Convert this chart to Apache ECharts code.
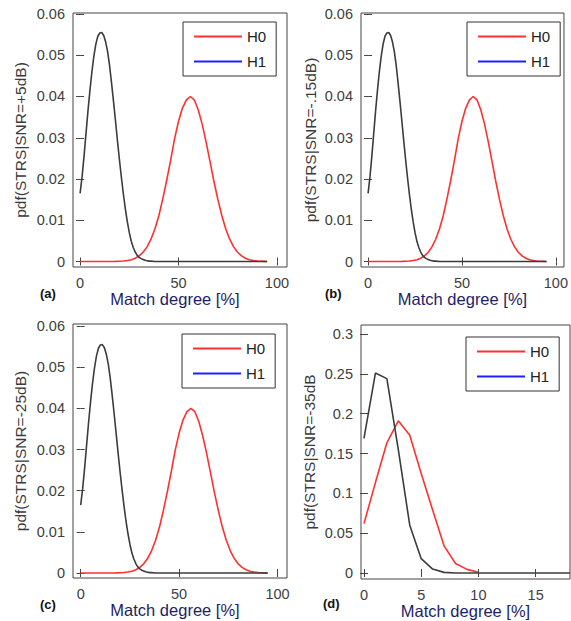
<!DOCTYPE html>
<html>
<head>
<meta charset="utf-8">
<script src="https://cdn.jsdelivr.net/npm/echarts@6/dist/echarts.min.js"></script>
<style>html,body{margin:0;padding:0;background:#fff}#c{width:571px;height:621px}</style>
</head>
<body>
<div id="c"></div>
<script>
// ---- data ----
// panels (a), (b), (c) share the same curves
const h1MainX = [0,1,2,3,4,5,6,7,8,9,10,11,12,13,14,15,16,17,18,19,20,21,22,23,24,25,26,27,28,29,30,31,32,33,34,35,36,38,40,50,60,70,80,90,95];
const h1MainY = [0.0165,0.0205,0.0255,0.0310,0.0365,0.0415,0.0460,0.0498,0.0527,0.0546,0.0554,0.0555,0.0548,0.0532,0.0508,0.0474,0.0432,0.0387,0.0340,0.0292,0.0246,0.0203,0.0163,0.0127,0.0096,0.0070,0.0049,0.0034,0.0023,0.0015,0.0010,0.0007,0.0005,0.0003,0.0002,0.0001,0.0001,0,0,0,0,0,0,0,0];
const h0MainX = [0,2,4,6,8,10,12,14,16,18,20,22,24,26,28,30,32,34,36,38,40,42,44,46,48,50,52,54,56,58,60,62,64,66,68,70,72,74,76,78,80,82,84,86,88,90,92,94,95];
const h0MainY = [0,0,0,0,0,0,0.00001,0.00001,0.00002,0.00003,0.00006,0.00012,0.00024,0.00044,0.00079,0.00136,0.00224,0.00355,0.0054,0.0079,0.0111,0.0152,0.0197,0.0246,0.0298,0.0340,0.0372,0.0392,0.0400,0.0392,0.0368,0.0333,0.0290,0.0242,0.0194,0.0150,0.0111,0.0079,0.0054,0.00355,0.00224,0.00136,0.00079,0.00044,0.00024,0.00012,0.00006,0.00003,0.00002];
// panel (d)
const h0DX = [0,1,2,3,4,5,6,7,8,9,10];
const h0DY = [0.062,0.1135,0.1635,0.191,0.173,0.125,0.079,0.034,0.012,0.0046,0.001];
const h1DX = [0,1,2,3,4,5,6,7,8,9,10,11,12,13,14,15,16,17,18];
const h1DY = [0.169,0.251,0.244,0.155,0.060,0.018,0.005,0.0008,0,0,0,0,0,0,0,0,0,0,0];
// ticks / labels
const xTicksMain = [0, 50, 100];
const yTicksMain = [0, 0.01, 0.02, 0.03, 0.04, 0.05, 0.06];
const xTicksD = [0, 5, 10, 15];
const yTicksD = [0, 0.05, 0.1, 0.15, 0.2, 0.25, 0.3];
const seriesNames = ['H0', 'H1'];
const yTitles = ['pdf(STRS|SNR=+5dB)', 'pdf(STRS|SNR=-.15dB)', 'pdf(STRS|SNR=-25dB)', 'pdf(STRS|SNR=-35dB'];
const xTitle = 'Match degree [%]';
const panelTags = ['(a)', '(b)', '(c)', '(d)'];

// ---- layout ----
const FONT = "'Liberation Sans', Arial, sans-serif";
const panels = [
  {grid:{left:73,top:13,width:214,height:254}, xr:[-3.6,105.1], yr:[-0.00133,0.06024], xt:xTicksMain, yt:yTicksMain, h0:[h0MainX,h0MainY], h1:[h1MainX,h1MainY], leg:{left:183,top:22}, tag:[40,294], namePad:[0,10,0,0], yGap:45},
  {grid:{left:361,top:13,width:209,height:254}, xr:[-3.77,104.3], yr:[-0.00133,0.06024], xt:xTicksMain, yt:yTicksMain, h0:[h0MainX,h0MainY], h1:[h1MainX,h1MainY], leg:{left:467,top:22}, tag:[325,294], namePad:[0,0,0,0], yGap:43},
  {grid:{left:73,top:324,width:214,height:254}, xr:[-3.9,104.8], yr:[-0.00121,0.0605], xt:xTicksMain, yt:yTicksMain, h0:[h0MainX,h0MainY], h1:[h1MainX,h1MainY], leg:{left:182,top:334}, tag:[40,605], namePad:[0,10,0,0], yGap:45},
  {grid:{left:361,top:325,width:209,height:254}, xr:[-0.26,18], yr:[-0.0075,0.3113], xt:xTicksD, yt:yTicksD, h0:[h0DX,h0DY], h1:[h1DX,h1DY], leg:{left:466,top:337}, tag:[323,604], namePad:[0,0,0,0], yGap:44}
];
const fmt = v => String(Math.round(v * 10000) / 10000);
const grids = [], xAxes = [], yAxes = [], series = [], legends = [], graphics = [];
const tickCol = '#404040';
panels.forEach((p, i) => {
  grids.push(Object.assign({show:true, borderColor:'#444', borderWidth:1, backgroundColor:'transparent'}, p.grid));
  const tickBase = {inside:true, length:4, lineStyle:{color:'#444', width:1}};
  xAxes.push({type:'value', gridIndex:i, position:'bottom', min:p.xr[0], max:p.xr[1],
    axisLine:{show:false}, splitLine:{show:false},
    axisTick:Object.assign({customValues:p.xt}, tickBase),
    axisLabel:{customValues:p.xt, formatter:fmt, color:tickCol, fontSize:14.5, fontFamily:FONT, margin:8},
    name:xTitle, nameLocation:'middle', nameGap:18,
    nameTextStyle:{color:'#1e1e66', fontSize:16.5, fontFamily:FONT, padding:p.namePad, verticalAlign:'top'}});
  xAxes.push({type:'value', gridIndex:i, position:'top', min:p.xr[0], max:p.xr[1],
    axisLine:{show:false}, splitLine:{show:false}, axisLabel:{show:false},
    axisTick:Object.assign({customValues:p.xt}, tickBase)});
  yAxes.push({type:'value', gridIndex:i, position:'left', min:p.yr[0], max:p.yr[1],
    axisLine:{show:false}, splitLine:{show:false},
    axisTick:Object.assign({customValues:p.yt}, tickBase),
    axisLabel:{customValues:p.yt, formatter:fmt, color:tickCol, fontSize:14.5, fontFamily:FONT, margin:8},
    name:yTitles[i], nameLocation:'middle', nameGap:p.yGap, nameRotate:90,
    nameTextStyle:{color:'#3a3a3a', fontSize:15.5, fontFamily:FONT}});
  yAxes.push({type:'value', gridIndex:i, position:'right', min:p.yr[0], max:p.yr[1],
    axisLine:{show:false}, splitLine:{show:false}, axisLabel:{show:false},
    axisTick:Object.assign({customValues:p.yt}, tickBase)});
  const pairs = (xs, ys) => xs.map((x, k) => [x, ys[k]]);
  series.push({name:'H0', type:'line', xAxisIndex:2*i, yAxisIndex:2*i, data:pairs(p.h0[0], p.h0[1]),
    symbol:'none', showSymbol:false, itemStyle:{color:'#ff2a2a'}, lineStyle:{color:'#ff3030', width:1.6}, clip:true, silent:true});
  series.push({name:'H1', type:'line', xAxisIndex:2*i, yAxisIndex:2*i, data:pairs(p.h1[0], p.h1[1]),
    symbol:'none', showSymbol:false, itemStyle:{color:'#1a1aff'}, lineStyle:{color:'#3c3c3c', width:1.6}, clip:true, silent:true});
  legends.push({left:p.leg.left, top:p.leg.top, orient:'vertical', icon:'rect', itemWidth:48, itemHeight:2,
    itemGap:10, padding:[7,10,7,11], borderColor:'#333', borderWidth:1, backgroundColor:'#fff',
    selectedMode:false,
    textStyle:{fontSize:15, fontFamily:FONT, color:'#222', lineHeight:14},
    data:[{name:seriesNames[0], itemStyle:{color:'#ff3030'}}, {name:seriesNames[1], itemStyle:{color:'#2020ff'}}]});
  graphics.push({type:'text', left:p.tag[0], top:p.tag[1]-7, silent:true,
    style:{text:panelTags[i], font:"bold 13px " + FONT, fill:'#111'}});
});
const chart = echarts.init(document.getElementById('c'), null, {renderer:'svg'});
chart.setOption({
  backgroundColor:'#fff', animation:false,
  grid:grids, xAxis:xAxes, yAxis:yAxes, series:series, legend:legends, graphic:graphics
});
</script>
</body>
</html>
